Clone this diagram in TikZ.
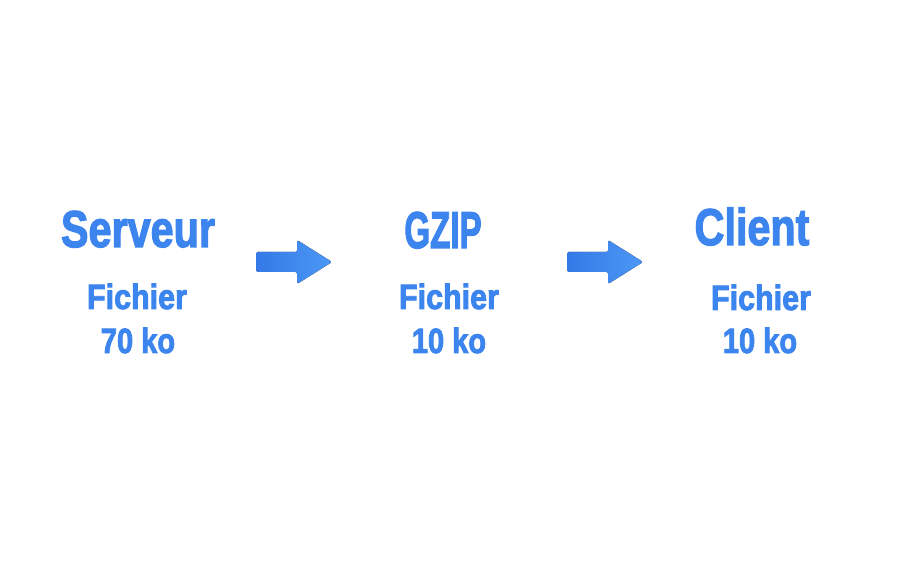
\documentclass[tikz,border=0pt]{standalone}
\usepackage{fontspec}
\usepackage{graphicx}
\setmainfont[FakeBold=2.6]{Liberation Sans Bold}
\definecolor{txtblue}{HTML}{3D85EE}
\definecolor{arrL}{HTML}{3479E6}
\definecolor{arrR}{HTML}{4C98F6}
\tikzset{
  title/.style={anchor=base, inner sep=0pt, text=txtblue, font=\fontsize{51.7}{52}\selectfont},
  sub/.style={anchor=base, inner sep=0pt, text=txtblue, font=\fontsize{35}{36}\selectfont},
  bigarrow/.style={left color=arrL, right color=arrR, draw=none, rounded corners=1.5pt}
}
\newcommand{\sx}[2]{\scalebox{#1}[1]{#2}}
\begin{document}
\begin{tikzpicture}[x=1pt,y=-1pt]
\useasboundingbox[fill=white] (0,0) rectangle (900,561);
% Serveur
\node[title] (srv) at (138,247) {\sx{0.80}{Serveur}};
\node[sub] (srvf) at (137,309) {\sx{0.87}{Fichier}};
\node[sub] (srvk) at (138,353) {\sx{0.83}{70 ko}};
% GZIP
\node[title] (gz) at (443,248) {\sx{0.64}{GZIP}};
\node[sub] (gzf) at (449,309) {\sx{0.87}{Fichier}};
\node[sub] (gzk) at (449,353) {\sx{0.83}{10 ko}};
% Client
\node[title] (cl) at (752,245) {\sx{0.80}{Client}};
\node[sub] (clf) at (761,310) {\sx{0.87}{Fichier}};
\node[sub] (clk) at (760,353) {\sx{0.83}{10 ko}};
% arrows
\coordinate (a1) at (256,262);
\coordinate (a2) at (567,262);
\foreach \c in {a1,a2}{
  \fill[bigarrow] ([shift={(0,-10)}]\c) -- ++(41,0) -- ++(0,-12) -- ++(35,22) -- ++(-35,22) -- ++(0,-12) -- ++(-41,0) -- cycle;
}
\end{tikzpicture}
\end{document}
